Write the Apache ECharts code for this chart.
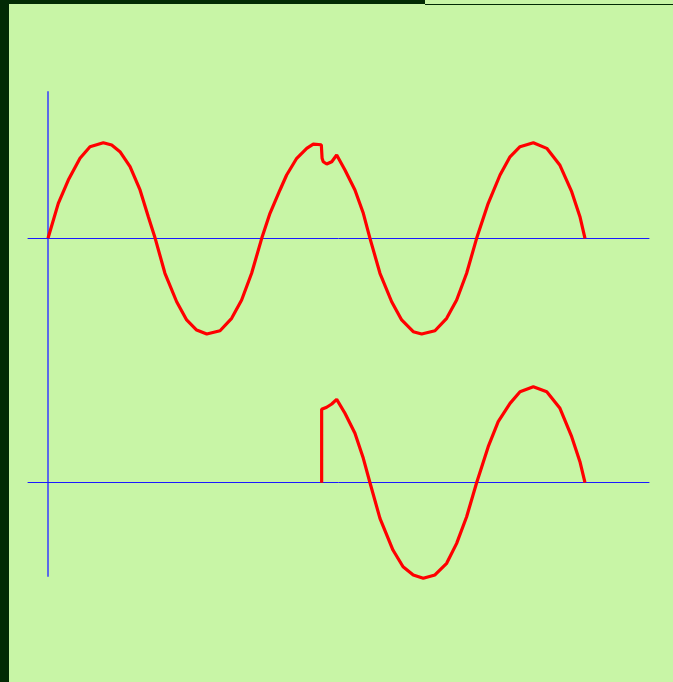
<!DOCTYPE html>
<html>
<head>
<meta charset="utf-8">
<script src="https://cdn.jsdelivr.net/npm/echarts@6/dist/echarts.min.js"></script>
<style>
html,body{margin:0;padding:0;width:673px;height:682px;overflow:hidden;background:#c8f5a6;}
#chart{position:absolute;left:0;top:0;width:673px;height:682px;}
.strip{position:absolute;background:#022a04;}
</style>
</head>
<body>
<div id="chart"></div>
<div class="strip" style="left:0;top:0;width:9px;height:682px;"></div>
<div class="strip" style="left:0;top:0;width:425px;height:4px;"></div>
<div class="strip" style="left:425px;top:4px;width:248px;height:1px;"></div>
<script>
// time in ms (2.5 cycles of a 50 Hz wave), values in per-unit
const topT = [0,0.96,1.89,2.98,3.91,5.15,5.93,6.70,7.64,8.57,9.34,9.98,10.89,11.98,12.91,13.84,14.78,16.02,17.10,18.03,18.96,19.90,20.67,21.60,22.22,23.16,24.09,24.70,25.45,25.52,25.63,25.95,26.42,26.88,27.65,28.58,29.36,29.98,30.91,32.00,32.93,34.01,34.79,36.03,37.12,38.05,38.98,39.91,40.99,42.09,43.02,43.95,45.19,46.44,47.67,48.76,49.53,50.0];
const topV = [0,0.366,0.610,0.838,0.959,1.001,0.977,0.907,0.750,0.506,0.226,0,-0.366,-0.664,-0.855,-0.960,-1.002,-0.968,-0.838,-0.646,-0.366,0,0.262,0.506,0.663,0.838,0.942,0.987,0.980,0.838,0.802,0.778,0.802,0.872,0.715,0.506,0.262,0,-0.366,-0.664,-0.855,-0.978,-1.002,-0.968,-0.838,-0.646,-0.366,0,0.366,0.663,0.854,0.959,1.001,0.942,0.764,0.488,0.226,0];
const botT = [25.48,25.48,25.95,26.42,26.88,27.65,28.58,29.36,29.98,30.91,32.12,33.06,34.01,34.94,36.03,37.12,38.05,38.98,39.91,40.99,41.92,43.02,43.95,45.19,46.44,47.67,48.76,49.53,50.0];
const botV = [0,0.769,0.790,0.824,0.873,0.727,0.517,0.255,0,-0.373,-0.705,-0.880,-0.966,-1.001,-0.966,-0.844,-0.635,-0.356,0,0.377,0.639,0.831,0.953,1.005,0.953,0.779,0.482,0.220,0];

const chart = echarts.init(document.getElementById('chart'), null, {renderer:'canvas'});
const pair = (a,b)=>a.map((t,i)=>[t,b[i]]);
const xBase = {type:'value', min:-1.862, max:55.96, splitLine:{show:false}, axisTick:{show:false}, axisLabel:{show:false},
  axisLine:{onZero:true, lineStyle:{color:'#1a1aff', width:1}}};
const yBase = {type:'value', splitLine:{show:false}, axisTick:{show:false}, axisLabel:{show:false},
  axisLine:{show:true, onZero:true, lineStyle:{color:'#5a6ae8', width:2}}};
chart.setOption({
  backgroundColor:'#c8f5a6',
  animation:false,
  grid:[
    {left:28, right:24, top:92, height:268},
    {left:28, right:24, top:360, height:216}
  ],
  xAxis:[Object.assign({gridIndex:0}, xBase), Object.assign({gridIndex:1}, xBase)],
  yAxis:[Object.assign({gridIndex:0, min:-1.274, max:1.532}, yBase), Object.assign({gridIndex:1, min:-0.977, max:1.285}, yBase)],
  series:[
    {type:'line', xAxisIndex:0, yAxisIndex:0, data:pair(topT, topV), clip:false, showSymbol:false, symbol:'none', lineStyle:{color:'#ff0000', width:3.2}},
    {type:'line', xAxisIndex:1, yAxisIndex:1, data:pair(botT, botV), clip:false, showSymbol:false, symbol:'none', lineStyle:{color:'#ff0000', width:3.2}}
  ]
});
</script>
</body>
</html>
